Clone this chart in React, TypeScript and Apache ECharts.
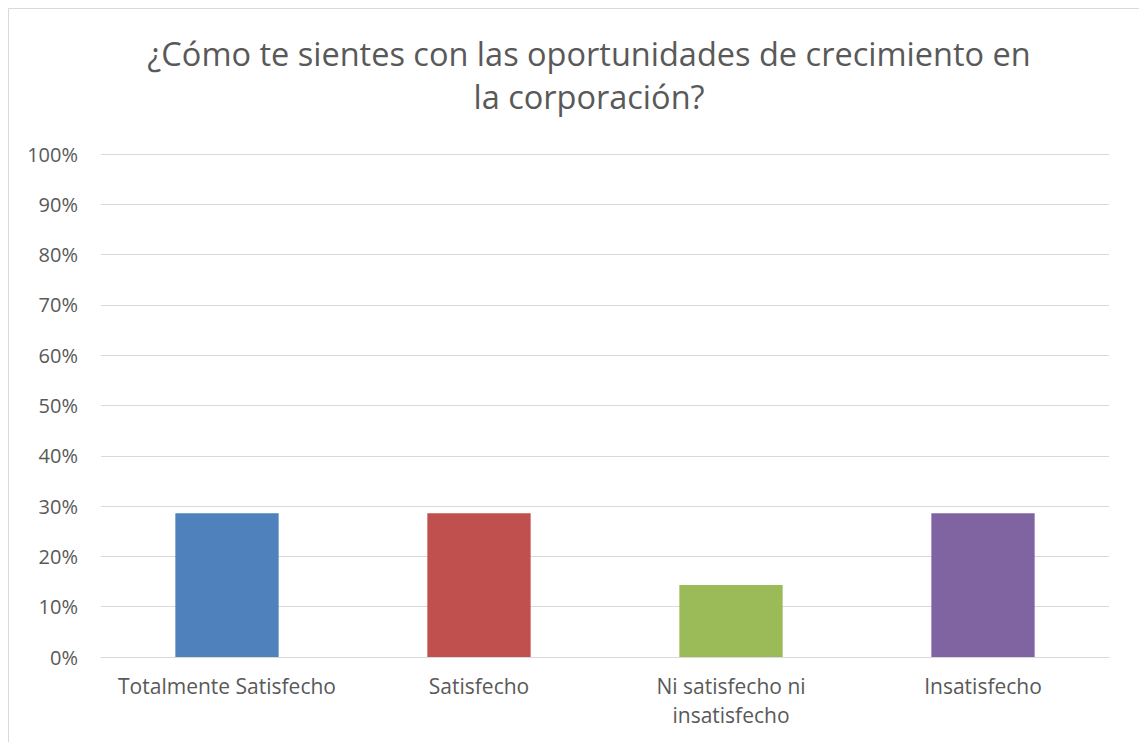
import React, { useEffect, useRef } from "react";
import * as echarts from "echarts";

const titleText = "¿Cómo te sientes con las oportunidades de crecimiento en\nla corporación?";
const categories = ["Totalmente Satisfecho", "Satisfecho", "Ni satisfecho ni\ninsatisfecho", "Insatisfecho"];
const values = [0.2857, 0.2857, 0.1429, 0.2857];
const colors = ["#4F81BD", "#C0504D", "#9BBB59", "#8064A2"];

export default function App() {
  const ref = useRef<HTMLDivElement>(null);
  useEffect(() => {
    if (!ref.current) return;
    const chart = echarts.init(ref.current, null, { renderer: "svg" });
    const font = "'Open Sans', sans-serif";
    chart.setOption({
      animation: false,
      title: {
        text: titleText,
        left: 576,
        top: 19,
        textAlign: "center",
        textStyle: { fontFamily: font, fontSize: 32.5, fontWeight: "normal", color: "#595959", lineHeight: 43 },
      },
      graphic: [
        {
          type: "rect",
          shape: { x: 0.5, y: 0.5, width: 1300, height: 900 },
          style: { fill: "none", stroke: "#d9d9d9", lineWidth: 1 },
          silent: true,
        },
      ],
      grid: { left: 93, right: 38, top: 146, bottom: 85, containLabel: false },
      xAxis: {
        type: "category",
        data: categories,
        axisLine: { show: true, lineStyle: { color: "#d9d9d9", width: 1 } },
        axisTick: { show: false },
        axisLabel: { interval: 0, color: "#595959", fontFamily: font, fontSize: 21, lineHeight: 29, margin: 14 },
      },
      yAxis: {
        type: "value",
        min: 0,
        max: 1,
        interval: 0.1,
        axisLine: { show: false },
        axisTick: { show: false },
        splitLine: { lineStyle: { color: "#d9d9d9", width: 1 } },
        axisLabel: {
          color: "#595959",
          fontFamily: font,
          fontSize: 20,
          margin: 23,
          formatter: (v: number) => Math.round(v * 100) + "%",
        },
      },
      series: [
        {
          type: "bar",
          barWidth: "41%",
          data: values.map((v, i) => ({ value: v, itemStyle: { color: colors[i] } })),
        },
      ],
    });
    return () => chart.dispose();
  }, []);
  return <div ref={ref} style={{ width: 1139, height: 734 }} />;
}
